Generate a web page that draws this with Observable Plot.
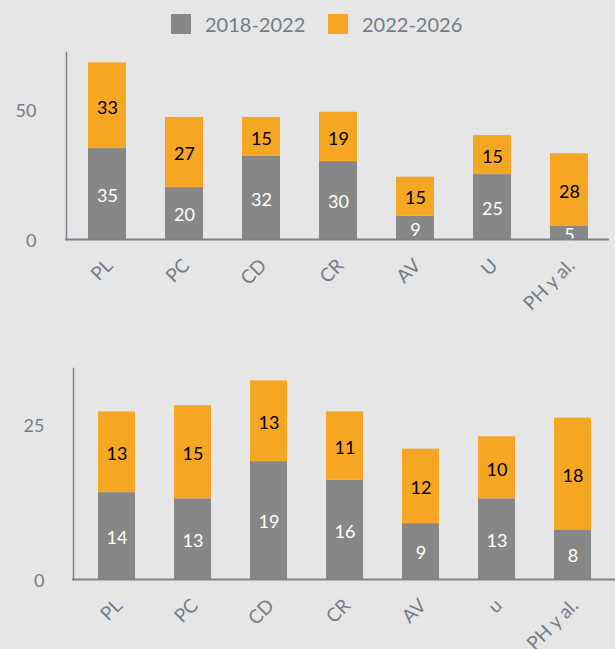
<!DOCTYPE html>
<html>
<head>
<meta charset="utf-8">
<script src="https://cdn.jsdelivr.net/npm/d3@7"></script>
<script src="https://cdn.jsdelivr.net/npm/@observablehq/plot@0.6"></script>
<style>
  html, body { margin: 0; padding: 0; background: #e6e6e6; }
  #root { position: relative; width: 615px; height: 649px; overflow: hidden; background: #e6e6e6; font-family: Lato, sans-serif; }
  .sw { position: absolute; width: 20px; height: 20px; top: 14px; }
  .lt { position: absolute; top: 10px; font-size: 20px; color: #737c87; line-height: 28px; }
  .chart { position: absolute; left: 0; }
</style>
</head>
<body>
<div id="root">
  <div class="sw" style="left:171px;background:#878787"></div>
  <div class="lt" id="l1" style="left:205px"></div>
  <div class="sw" style="left:328px;background:#f5a623"></div>
  <div class="lt" id="l2" style="left:362px"></div>
  <div class="chart" id="c1" style="top:48px"></div>
  <div class="chart" id="c2" style="top:348px"></div>
</div>
<script>
const seriesNames = ["2018-2022", "2022-2026"];
const seriesColors = ["#878787", "#f5a623"];
const labelColors = ["white", "black"];

const categoriesTop = ["PL", "PC", "CD", "CR", "AV", "U", "PH y al."];
const top2018 = [35, 20, 32, 30, 9, 25, 5];
const top2022 = [33, 27, 15, 19, 15, 15, 28];
const topTicks = [0, 50];

const categoriesBottom = ["PL", "PC", "CD", "CR", "AV", "u", "PH y al."];
const bottom2018 = [14, 13, 19, 16, 9, 13, 8];
const bottom2022 = [13, 15, 13, 11, 12, 10, 18];
const bottomTicks = [0, 25];

document.getElementById("l1").textContent = seriesNames[0];
document.getElementById("l2").textContent = seriesNames[1];

function rows(cats, a, b) {
  const out = [];
  cats.forEach((c, i) => {
    out.push({cat: c, series: seriesNames[0], value: a[i]});
    out.push({cat: c, series: seriesNames[1], value: b[i]});
  });
  return out;
}

function chart(cats, a, b, opts) {
  const data = rows(cats, a, b);
  const axisColor = "#7a838e";
  return Plot.plot({
    width: 615,
    height: opts.height,
    marginTop: opts.marginTop,
    marginBottom: opts.marginBottom,
    marginLeft: opts.marginLeft,
    marginRight: opts.marginRight,
    style: {background: "transparent", fontFamily: "Lato, sans-serif", fontSize: "18px", color: "#737c87", overflow: "visible"},
    x: {domain: cats, paddingInner: 0.51, paddingOuter: 0.255, insetLeft: opts.insetLeft, insetRight: opts.insetRight, label: null},
    y: {domain: opts.yDomain, label: null},
    color: {domain: seriesNames, range: seriesColors},
    marks: [
      Plot.barY(data, Plot.stackY({x: "cat", y: "value", fill: "series", order: seriesNames})),
      Plot.text(data, Plot.stackY({x: "cat", y: "value", z: "series", order: seriesNames, text: d => d.series === seriesNames[0] ? String(d.value) : "", fill: labelColors[0], fontSize: 18, dy: 2})),
      Plot.text(data, Plot.stackY({x: "cat", y: "value", z: "series", order: seriesNames, text: d => d.series === seriesNames[1] ? String(d.value) : "", fill: labelColors[1], fontSize: 18, dy: 2})),
      Plot.frame({anchor: "left", stroke: axisColor, strokeWidth: 1.5}),
      Plot.ruleY([0], {stroke: axisColor, strokeWidth: 2, insetLeft: -1}),
      Plot.axisY({ticks: opts.ticks, tickSize: 0, tickPadding: opts.yPad, fontSize: 18, label: null, dy: 2}),
      Plot.axisX({tickSize: 0, tickRotate: -45, tickPadding: 23, dx: 2, fontSize: 19, label: null})
    ]
  });
}

document.getElementById("c1").appendChild(chart(categoriesTop, top2018, top2022, {
  height: 296, marginTop: 4, marginBottom: 105, marginLeft: 66, marginRight: 6,
  insetLeft: 1, insetRight: 0, yDomain: [0, 72], ticks: topTicks, yPad: 30
}));
document.getElementById("c2").appendChild(chart(categoriesBottom, bottom2018, bottom2022, {
  height: 301, marginTop: 20, marginBottom: 70, marginLeft: 73, marginRight: 0,
  insetLeft: 3, insetRight: 1, yDomain: [0, 34], ticks: bottomTicks, yPad: 29
}));
</script>
</body>
</html>
